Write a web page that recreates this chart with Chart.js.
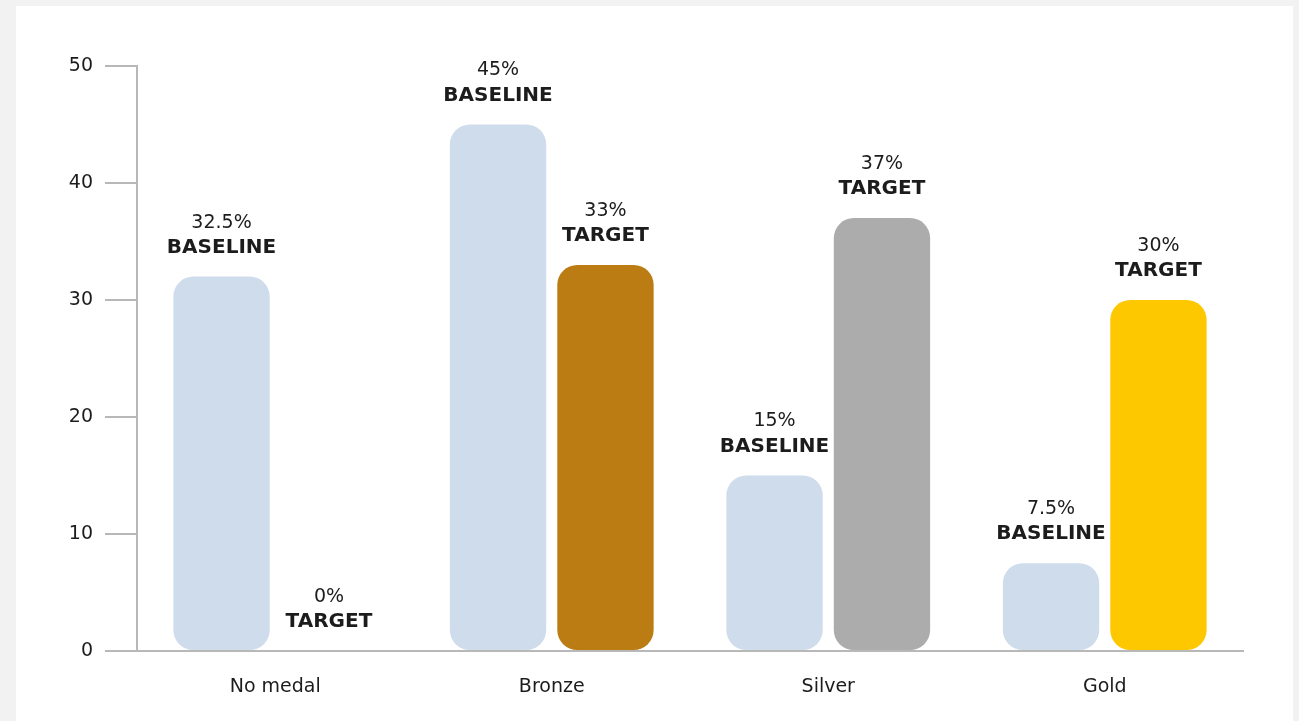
<!DOCTYPE html>
<html>
<head>
<meta charset="utf-8">
<script src="https://cdn.jsdelivr.net/npm/chart.js@4/dist/chart.umd.min.js"></script>
<style>
    html, body { margin: 0; padding: 0; background: #f2f2f2; }
    #panel { position: absolute; left: 16px; top: 6px; width: 1277px; height: 715px; background: #ffffff; }
    #wrap { position: absolute; left: 0; top: 0; width: 1299px; height: 721px; }
</style>
</head>
<body>
<div id="panel"></div>
<div id="wrap"><canvas id="medalChart"></canvas></div>
<script>
const categories = ['No medal', 'Bronze', 'Silver', 'Gold'];
const baselineValues = [32, 45, 15, 7.5];
const targetValues = [0, 33, 37, 30];
const baselineLabels = ['32.5%', '45%', '15%', '7.5%'];
const targetLabels = ['0%', '33%', '37%', '30%'];
const yTicks = [0, 10, 20, 30, 40, 50];

const fontFamily = '"DejaVu Sans", sans-serif';
const textColor = '#1c1c1c';
const axisColor = '#b8b8b8';

// draws the two-line value / series caption above each bar
const barCaptions = {
    id: 'barCaptions',
    afterDatasetsDraw(chart) {
        const ctx = chart.ctx;
        const yScale = chart.scales.y;
        chart.data.datasets.forEach((ds, di) => {
            const meta = chart.getDatasetMeta(di);
            meta.data.forEach((bar, i) => {
                const top = yScale.getPixelForValue(ds.data[i]);
                ctx.save();
                ctx.fillStyle = textColor;
                ctx.textAlign = 'center';
                ctx.textBaseline = 'middle';
                ctx.font = '19px ' + fontFamily;
                ctx.fillText(ds.captions[i], bar.x, top - 54);
                ctx.font = 'bold 20px ' + fontFamily;
                ctx.fillText(ds.label, bar.x, top - 29);
                ctx.restore();
            });
        });
    }
};

new Chart(document.getElementById('medalChart'), {
    type: 'bar',
    data: {
        labels: categories,
        datasets: [{
            label: 'BASELINE',
            data: baselineValues,
            captions: baselineLabels,
            backgroundColor: '#cfdcec',
            borderRadius: 20,
            borderSkipped: false,
            categoryPercentage: 0.777,
            barPercentage: 0.897
        }, {
            label: 'TARGET',
            data: targetValues,
            captions: targetLabels,
            backgroundColor: ['#ffffff', '#bb7c13', '#acacac', '#fdc800'],
            borderRadius: 20,
            borderSkipped: false,
            categoryPercentage: 0.777,
            barPercentage: 0.897
        }]
    },
    options: {
        responsive: true,
        maintainAspectRatio: false,
        animation: false,
        layout: { padding: { left: 0, right: 56, top: 66, bottom: 0 } },
        plugins: {
            legend: { display: false },
            tooltip: { enabled: false }
        },
        scales: {
            x: {
                grid: { display: false, drawTicks: false },
                border: { color: axisColor, width: 2 },
                ticks: {
                    padding: 25,
                    color: textColor,
                    font: { family: fontFamily, size: 19 }
                },
                afterFit(scale) { scale.height = 70; }
            },
            y: {
                min: 0,
                max: 50,
                afterBuildTicks(scale) { scale.ticks = yTicks.map(v => ({ value: v })); },
                grid: { drawOnChartArea: false, drawTicks: true, tickLength: 32, color: axisColor, lineWidth: 2 },
                border: { color: axisColor, width: 2 },
                ticks: {
                    padding: 12,
                    color: textColor,
                    font: { family: fontFamily, size: 19 }
                },
                afterFit(scale) { scale.width = 137; }
            }
        }
    },
    plugins: [barCaptions]
});
</script>
</body>
</html>
